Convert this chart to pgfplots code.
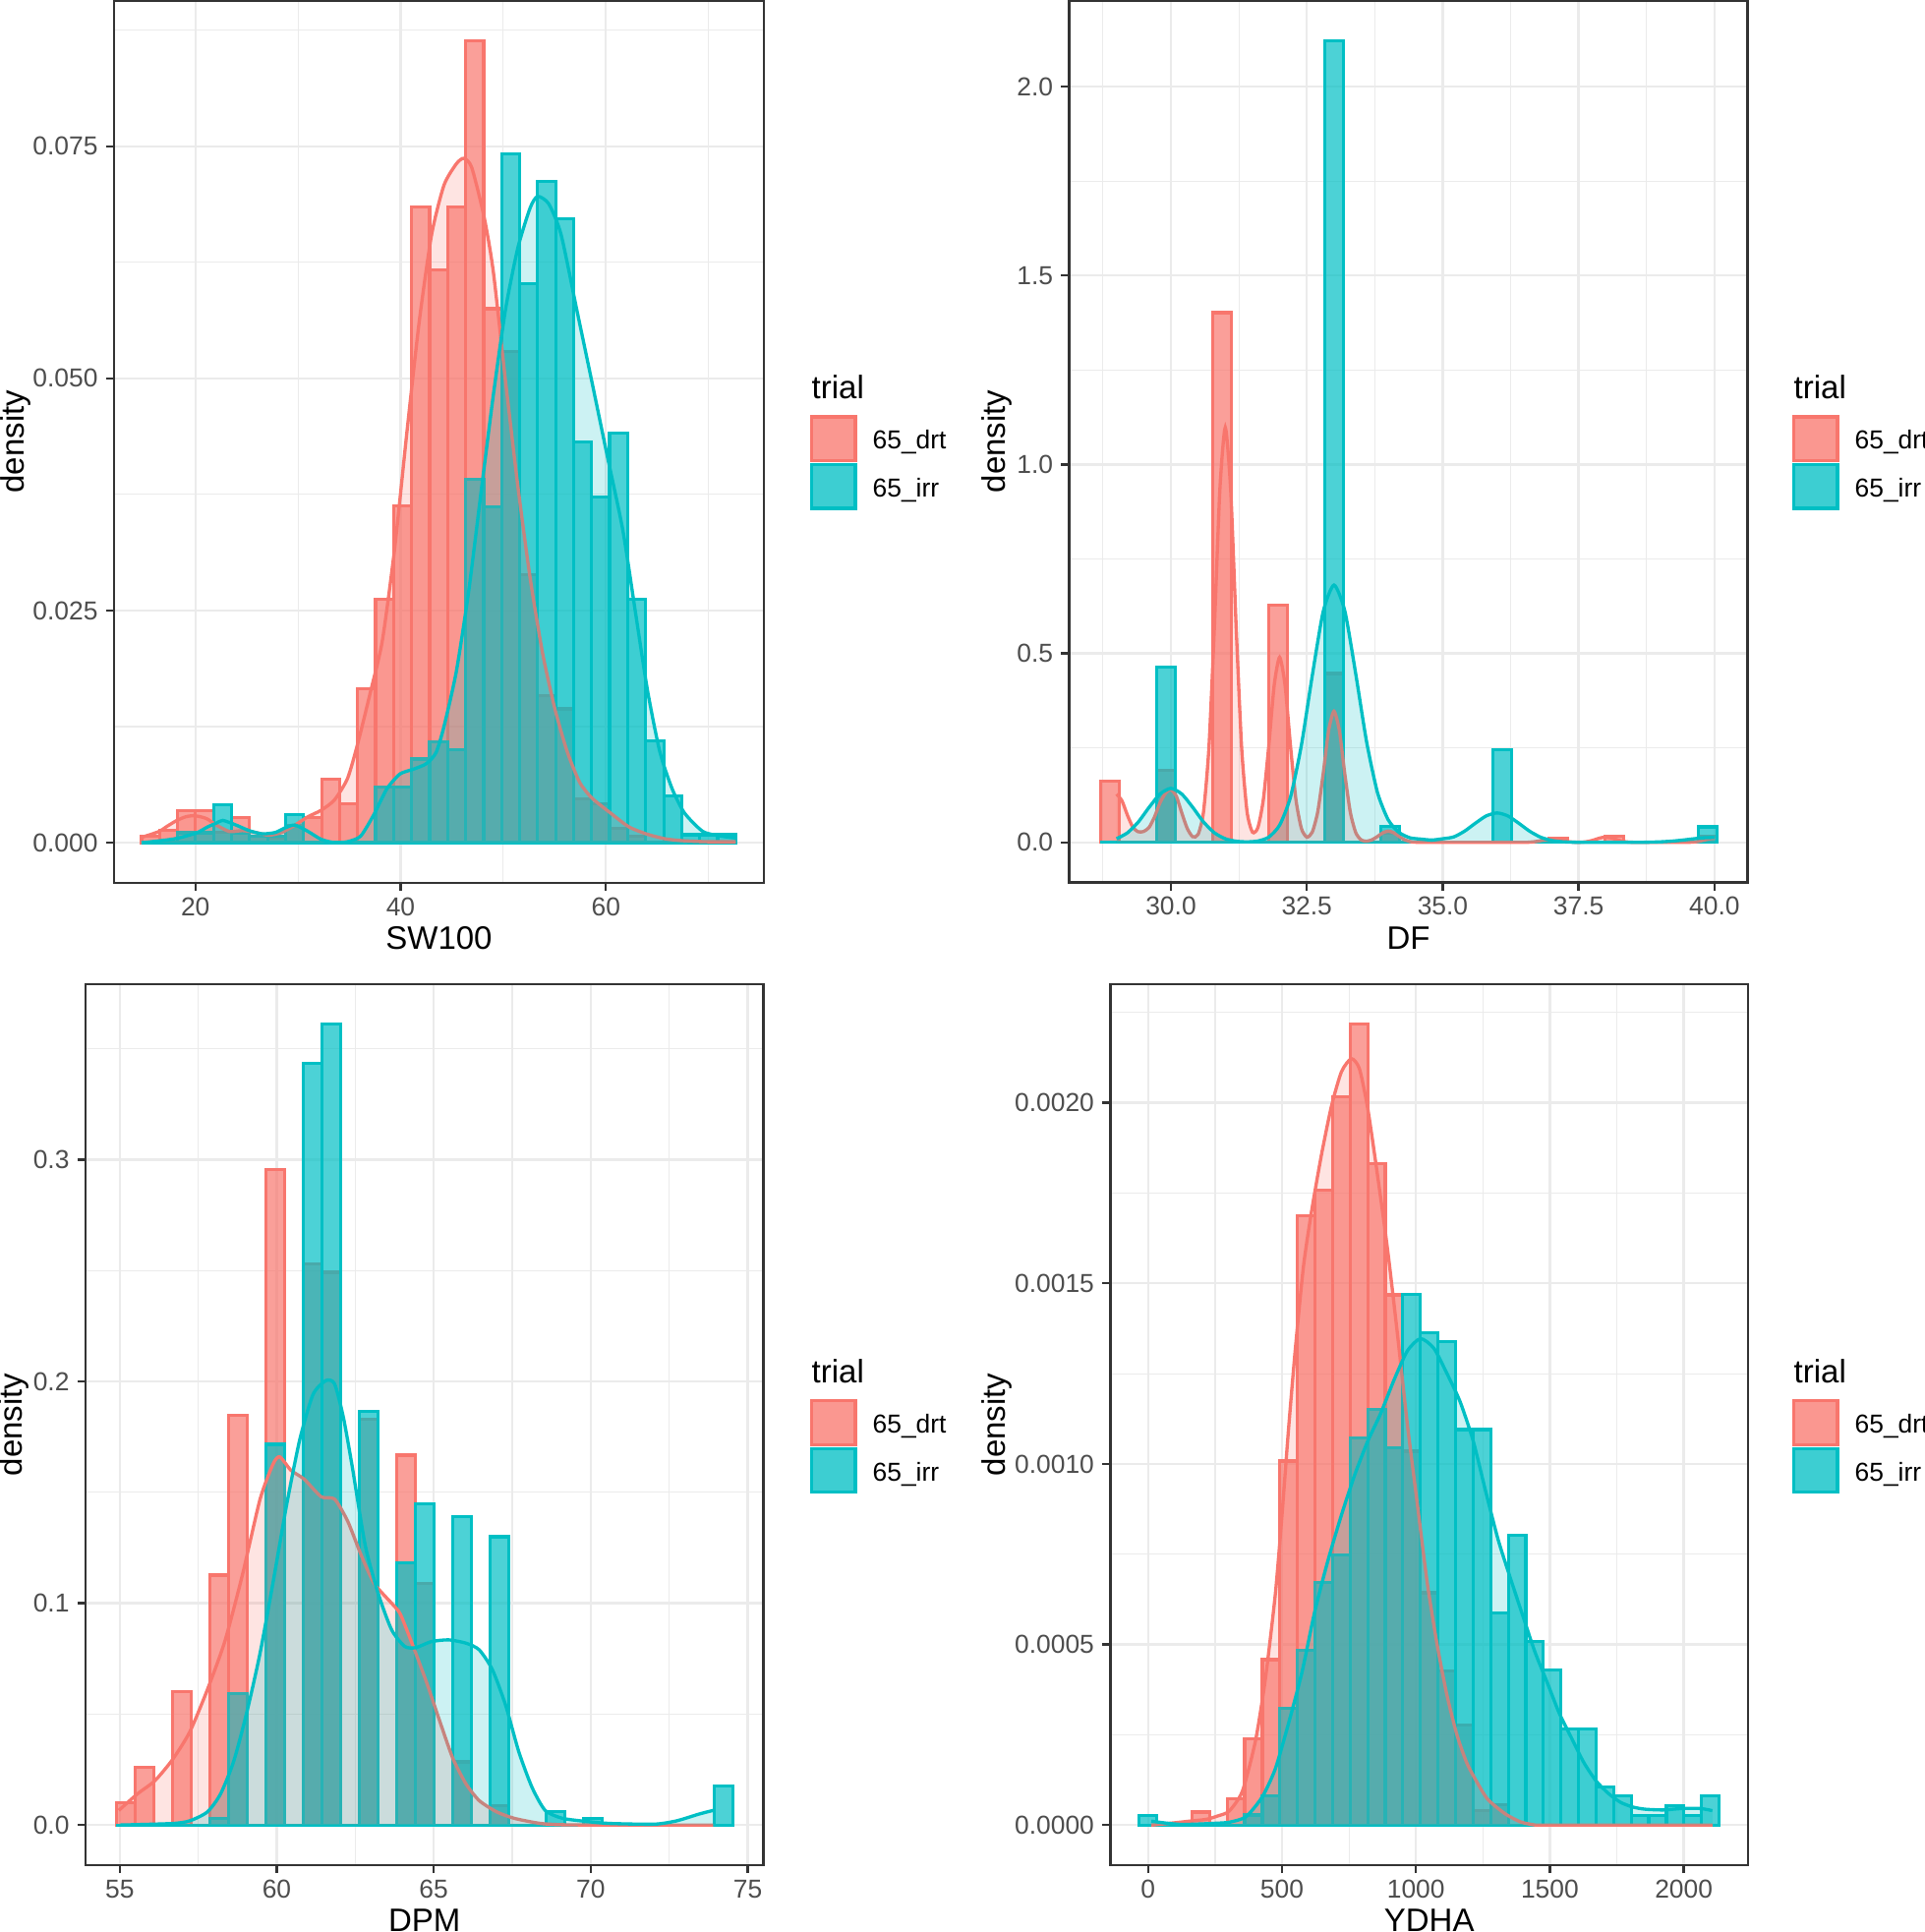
\documentclass[border=0pt]{standalone}
\usepackage{fontspec}
\setmainfont{Liberation Sans}
\usepackage{pgfplots}
\pgfplotsset{compat=1.18}
\usepackage{pgfplotstable}
\definecolor{cdrt}{HTML}{F8766D}
\definecolor{cirr}{HTML}{00BFC4}
\definecolor{gridc}{HTML}{EBEBEB}
\definecolor{g20}{HTML}{333333}
\definecolor{g30}{HTML}{4D4D4D}
\definecolor{keydrt}{RGB}{250,151,144}
\definecolor{keyirr}{RGB}{61,206,210}

% ---------------- SW100 ----------------
\pgfplotstableread{
x y
14.76 0.0007
16.51 0.0013
18.27 0.00345
20.02 0.00345
21.78 0.0011
23.53 0.00275
25.28 0.0007
27.04 0.0005
28.79 0.0018
30.55 0.00275
32.30 0.0068
34.05 0.0042
35.81 0.0166
37.56 0.0262
39.32 0.0363
41.07 0.0685
42.82 0.0617
44.58 0.0685
46.33 0.0864
48.09 0.0575
49.84 0.0529
51.59 0.0289
53.35 0.0158
55.10 0.0144
56.86 0.0047
58.61 0.0042
60.36 0.0015
62.12 0.0007
63.87 0
65.63 0
67.38 0
69.13 0
70.89 0
72.64 0
}\swHd
\pgfplotstableread{
x y
14.76 0
16.51 0
18.27 0.00106
20.02 0.00106
21.78 0.00405
23.53 0.001
25.28 0.0007
27.04 0.0007
28.79 0.003
30.55 0
32.30 0
34.05 0
35.81 0
37.56 0.0060
39.32 0.0060
41.07 0.0090
42.82 0.0109
44.58 0.0100
46.33 0.0391
48.09 0.0362
49.84 0.0742
51.59 0.0602
53.35 0.0712
55.10 0.0672
56.86 0.0432
58.61 0.0372
60.36 0.0441
62.12 0.0262
63.87 0.0110
65.63 0.0050
67.38 0.00086
69.13 0.00086
70.89 0.00086
72.64 0.00086
}\swHi
\pgfplotstableread{
x y
14.85 0.0006
16.45 0.0012
17.3 0.0018
18.21 0.0024
19.1 0.0028
19.96 0.0029
21.08 0.0026
22.04 0.0019
23.32 0.0012
24.60 0.0013
25.88 0.0011
27.15 0.0008
28.43 0.0011
29.71 0.0019
30.99 0.0028
32.27 0.0035
33.55 0.0046
34.82 0.0069
35.78 0.0105
37.01 0.0160
38.21 0.0217
39.42 0.0317
40.62 0.0443
41.82 0.0562
43.02 0.0655
44.22 0.0708
45.42 0.0731
46.15 0.0737
46.93 0.0727
48.13 0.0674
49.03 0.0615
50.23 0.0496
51.43 0.0383
52.63 0.0284
53.83 0.0204
55.03 0.0144
56.23 0.0098
57.44 0.0065
58.64 0.0048
60.44 0.0032
62.24 0.0017
64.05 0.0009
65.85 0.0004
67.65 0.0002
70.0 0.0001
72.64 0.0001
}\swDd
\pgfplotstableread{
x y
14.85 0.0000
16.5 0.0002
18.21 0.00046
20.13 0.00106
21.2 0.0017
22.04 0.0021
22.68 0.0024
23.96 0.0019
25.24 0.0013
26.51 0.00095
27.79 0.0011
28.75 0.0016
29.71 0.0019
30.99 0.0012
32.27 0.00035
33.55 0.0000
34.82 0.0001
36.10 0.0007
37.38 0.0030
38.66 0.0058
39.94 0.0074
41.21 0.0079
42.49 0.0085
43.45 0.0097
44.22 0.0125
45.42 0.0184
46.62 0.0270
47.82 0.0376
49.03 0.0482
50.23 0.0575
51.43 0.0641
52.63 0.0684
53.35 0.0696
54.43 0.0688
55.63 0.0655
57.14 0.0575
58.64 0.0496
60.14 0.0416
61.64 0.0337
62.85 0.0250
64.05 0.0164
65.25 0.0098
66.45 0.0058
67.65 0.0032
69.45 0.0012
71.26 0.0007
72.64 0.0005
}\swDi

% ---------------- DF ----------------
\pgfplotstableread{
x y
28.700 0.163
29.044 0
29.388 0
29.731 0.190
30.075 0
30.419 0
30.763 1.402
31.106 0
31.450 0
31.794 0.628
32.138 0
32.481 0
32.825 0.447
33.169 0
33.513 0
33.856 0.024
34.200 0
34.544 0
34.888 0
35.231 0
35.575 0
35.919 0
36.263 0
36.606 0
36.950 0.0104
37.294 0
37.638 0
37.981 0.0173
38.325 0
38.669 0
39.013 0
39.356 0
39.700 0.017
40.044 0.017
}\dfHd
\pgfplotstableread{
x y
28.700 0
29.044 0
29.388 0
29.731 0.4636
30.075 0
30.419 0
30.763 0
31.106 0
31.450 0
31.794 0
32.138 0
32.481 0
32.825 2.122
33.169 0
33.513 0
33.856 0.0416
34.200 0
34.544 0
34.888 0
35.231 0
35.575 0
35.919 0.245
36.263 0
36.606 0
36.950 0
37.294 0
37.638 0
37.981 0
38.325 0
38.669 0
39.013 0
39.356 0
39.700 0.041
40.044 0.041
}\dfHi
\pgfplotstableread{
x y
29.0 0.128
29.1 0.110
29.2 0.072
29.3 0.040
29.4 0.028
29.5 0.029
29.6 0.040
29.7 0.068
29.8 0.105
29.9 0.130
30.0 0.140
30.1 0.122
30.2 0.078
30.3 0.037
30.4 0.015
30.5 0.021
30.6 0.081
30.7 0.253
30.8 0.571
30.9 0.932
31.0 1.098
31.1 0.932
31.2 0.571
31.3 0.253
31.4 0.082
31.5 0.027
31.6 0.039
31.7 0.113
31.8 0.255
31.9 0.416
32.0 0.490
32.1 0.416
32.2 0.255
32.3 0.113
32.4 0.037
32.5 0.014
32.6 0.027
32.7 0.080
32.8 0.180
32.9 0.295
33.0 0.347
33.1 0.295
33.2 0.180
33.3 0.080
33.4 0.026
33.5 0.0064
33.6 0.0032
33.7 0.0069
33.8 0.0156
33.9 0.0255
34.0 0.030
34.1 0.0255
34.2 0.0156
34.3 0.0069
34.4 0.0022
34.5 0.0005
34.7 0.0
36.4 0.0
36.6 0.0006
36.7 0.002
36.8 0.0045
36.9 0.0073
37.0 0.0086
37.1 0.0073
37.2 0.0045
37.3 0.002
37.4 0.0006
37.5 0.0003
37.6 0.001
37.7 0.0032
37.8 0.0073
37.9 0.0119
38.0 0.014
38.1 0.0119
38.2 0.0073
38.3 0.0032
38.4 0.001
38.6 0.0
39.4 0.0
39.5 0.0002
39.6 0.0008
39.7 0.0025
39.8 0.0057
39.9 0.0093
40.0 0.011
}\dfDd
\pgfplotstableread{
x y
29.0 0.0096
29.2 0.0253
29.4 0.054
29.6 0.093
29.8 0.128
30.0 0.143
30.2 0.128
30.4 0.093
30.6 0.054
30.8 0.0253
31.0 0.0096
31.2 0.003
31.4 0.0014
31.6 0.0036
31.8 0.0139
32.0 0.0456
32.2 0.120
32.4 0.257
32.6 0.441
32.8 0.610
33.0 0.681
33.2 0.612
33.4 0.446
33.6 0.266
33.8 0.132
34.0 0.059
34.2 0.026
34.4 0.012
34.6 0.0087
34.8 0.0062
35.0 0.0096
35.2 0.0143
35.4 0.0295
35.6 0.0506
35.8 0.070
36.0 0.078
36.2 0.070
36.4 0.0506
36.6 0.0295
36.8 0.0138
37.0 0.0052
37.2 0.0016
37.4 0.0004
37.6 0.0001
38.0 0.0
38.4 0.0
38.6 0.0001
38.8 0.0005
39.0 0.0014
39.2 0.0031
39.4 0.0058
39.6 0.0092
39.8 0.0121
40.0 0.0131
}\dfDi

% ---------------- DPM ----------------
\pgfplotstableread{
x y
54.888 0.0100
55.483 0.0261
56.078 0
56.673 0.0601
57.268 0
57.863 0.1127
58.458 0.1846
59.053 0
59.648 0.2955
60.243 0
60.838 0.2532
61.433 0.2493
62.028 0
62.623 0.1830
63.218 0
63.813 0.1668
64.408 0.1089
65.003 0
65.598 0.0285
66.193 0
66.788 0.0086
67.383 0
67.978 0
68.573 0
69.168 0
69.763 0
70.358 0
70.953 0
71.548 0
72.143 0
72.738 0
73.333 0
73.928 0
74.523 0
}\dpHd
\pgfplotstableread{
x y
54.888 0
55.483 0
56.078 0
56.673 0
57.268 0
57.863 0.003
58.458 0.0594
59.053 0
59.648 0.1717
60.243 0
60.838 0.3435
61.433 0.3612
62.028 0
62.623 0.1867
63.218 0
63.813 0.1183
64.408 0.1449
65.003 0
65.598 0.1390
66.193 0
66.788 0.1300
67.383 0
67.978 0
68.573 0.0059
69.168 0
69.763 0.0030
70.358 0
70.953 0
71.548 0
72.143 0
72.738 0
73.333 0
73.928 0.0177
74.523 0.0177
}\dpHi
\pgfplotstableread{
x y
54.97 0.0066
55.56 0.014
56.12 0.020
56.68 0.0295
57.23 0.042
57.79 0.061
58.35 0.083
58.91 0.113
59.47 0.147
59.89 0.163
60.10 0.166
60.45 0.160
60.87 0.156
61.42 0.148
61.84 0.147
62.26 0.137
62.68 0.122
63.10 0.109
63.66 0.100
63.94 0.095
64.36 0.080
64.78 0.064
65.20 0.0465
65.61 0.030
66.03 0.0185
66.45 0.011
67.01 0.0059
67.57 0.003
68.41 0.0007
69.25 0.0001
71.0 0.0
73.9 0.0
}\dpDd
\pgfplotstableread{
x y
55.0 0.0
56.68 0.0007
57.23 0.0019
57.79 0.0059
58.21 0.014
58.63 0.0288
59.05 0.051
59.47 0.0776
59.89 0.110
60.31 0.144
60.73 0.1736
61.15 0.194
61.56 0.2004
61.84 0.199
62.12 0.184
62.40 0.162
62.82 0.126
63.24 0.104
63.66 0.088
64.08 0.0805
64.43 0.080
64.92 0.0827
65.47 0.0835
66.03 0.082
66.45 0.079
66.87 0.070
67.29 0.054
67.71 0.033
68.13 0.017
68.55 0.0066
69.11 0.003
69.94 0.0015
70.64 0.0007
72.04 0.0004
72.74 0.0019
73.44 0.0049
73.9 0.0066
}\dpDi

% ---------------- YDHA ----------------
\pgfplotstableread{
x y
-33 0
32.6 0
98.2 0
163.8 0.000036
229.4 0
295 0.000074
360.6 0.000239
426.2 0.000458
491.8 0.001008
557.4 0.001688
623 0.001759
688.6 0.002016
754.2 0.002217
819.8 0.001831
885.4 0.001468
951 0.001035
1016.6 0.000643
1082.2 0.000426
1147.8 0.000278
1213.4 0.000040
1279 0.000056
1344.6 0
1410.2 0
1475.8 0
1541.4 0
1607 0
1672.6 0
1738.2 0
1803.8 0
1869.4 0
1935 0
2000.6 0
2066.2 0
2131.8 0
}\ydHd
\pgfplotstableread{
x y
-33 0.000026
32.6 0
98.2 0
163.8 0
229.4 0
295 0
360.6 0.000028
426.2 0.000081
491.8 0.000323
557.4 0.000484
623 0.000671
688.6 0.000749
754.2 0.001071
819.8 0.001150
885.4 0.001044
951 0.001470
1016.6 0.001363
1082.2 0.001339
1147.8 0.001095
1213.4 0.001095
1279 0.000588
1344.6 0.000803
1410.2 0.000509
1475.8 0.000429
1541.4 0.000266
1607 0.000266
1672.6 0.000106
1738.2 0.000080
1803.8 0.000027
1869.4 0.000027
1935 0.000053
2000.6 0.000027
2066.2 0.000080
2131.8 0.000080
}\ydHi
\pgfplotstableread{
x y
12 0.0
93 0.000006
155 0.000011
217 0.000016
263 0.000026
303 0.000039
352 0.000094
401 0.000234
438 0.000406
475 0.000640
500 0.000860
524 0.001094
549 0.001313
580 0.001547
611 0.001703
648 0.001859
685 0.001992
722 0.002086
759 0.002122
789 0.002094
820 0.001984
857 0.001797
894 0.001594
931 0.001359
968 0.001109
1005 0.000890
1042 0.000672
1079 0.000500
1116 0.000359
1153 0.000250
1190 0.000172
1227 0.000120
1264 0.000075
1300 0.000050
1340 0.000028
1390 0.000009
1440 0.000001
1500 0.0
2107 0.0
}\ydDd
\pgfplotstableread{
x y
12 0.000011
62 0.000006
124 0.000002
186 0.000003
247 0.000005
303 0.000008
365 0.000023
426 0.000078
475 0.000156
524 0.000281
574 0.000422
623 0.000594
672 0.000734
722 0.000859
771 0.000969
820 0.001063
869 0.001141
919 0.001234
968 0.001313
1017 0.001347
1067 0.001320
1116 0.001250
1165 0.001172
1214 0.001063
1261 0.000922
1307 0.000790
1352 0.000685
1398 0.000582
1444 0.000480
1490 0.000395
1535 0.000310
1581 0.000241
1627 0.000173
1673 0.000122
1718 0.000088
1764 0.000063
1810 0.000050
1856 0.000044
1924 0.000042
1993 0.000046
2062 0.000046
2107 0.000040
}\ydDi

\pgfplotsset{
  gg/.style={
    scale only axis,
    anchor=north west,
    grid=both,
    major grid style={draw=gridc, line width=0.7pt},
    minor grid style={draw=gridc, line width=0.35pt},
    minor tick length=0pt,
    major tick length=2.45pt,
    tick align=outside,
    tick pos=left,
    axis line style={draw=g20, line width=0.7pt},
    tick style={draw=g20, line width=0.7pt},
    ticklabel style={font=\fontsize{7.92pt}{9pt}\selectfont, text=g30, inner sep=0pt},
    xticklabel style={yshift=-1.8pt},
    yticklabel style={xshift=-2.3pt},
    label style={font=\fontsize{9.9pt}{11pt}\selectfont, text=black, inner sep=0pt},
    xlabel style={at={(axis description cs:0.5,0)}, anchor=base, yshift=-20.3pt},
    ylabel={density},
    scaled ticks=false,
  },
  hd/.style={ybar interval, fill=cdrt, fill opacity=0.7, draw=cdrt, line width=0.95pt},
  hi/.style={ybar interval, fill=cirr, fill opacity=0.7, draw=cirr, line width=0.95pt},
  fd/.style={draw=none, fill=cdrt, fill opacity=0.2, smooth, tension=0.4},
  fi/.style={draw=none, fill=cirr, fill opacity=0.2, smooth, tension=0.4},
  ld/.style={draw=cdrt, line width=1.0pt, smooth, tension=0.4},
  li/.style={draw=cirr, line width=1.0pt, smooth, tension=0.4},
}

\newcommand{\gglegend}[2]{%
  \node[anchor=base west, inner sep=0pt, font=\fontsize{9.9pt}{11pt}\selectfont] at (#1-0.15pt,#2+5.55pt) {trial};
  \filldraw[fill=keydrt, draw=cdrt, line width=0.95pt] (#1,#2) rectangle (#1+13.35pt,#2-13.35pt);
  \filldraw[fill=keyirr, draw=cirr, line width=0.95pt] (#1,#2-14.55pt) rectangle (#1+13.35pt,#2-27.9pt);
  \node[anchor=base west, inner sep=0pt, font=\fontsize{7.92pt}{9pt}\selectfont] at (#1+18.45pt,#2-9.75pt) {65\_drt};
  \node[anchor=base west, inner sep=0pt, font=\fontsize{7.92pt}{9pt}\selectfont] at (#1+18.45pt,#2-24.45pt) {65\_irr};
}

\begin{document}
\begin{tikzpicture}
\useasboundingbox (0pt,0pt) rectangle (587.1pt,-589.5pt);

% Panel 1: SW100
\begin{axis}[gg, at={(34.8pt,-0.15pt)}, width=198.3pt, height=269.2pt,
  xmin=12.08, xmax=75.39, ymin=-0.00432, ymax=0.0907,
  xtick={20,40,60}, xticklabels={20,40,60}, minor xtick={30,50,70},
  ytick={0,0.025,0.05,0.075}, yticklabels={0.000,0.025,0.050,0.075},
  minor ytick={0.0125,0.0375,0.0625,0.0875},
  xlabel={SW100},
  ylabel style={at={(axis description cs:-0.1517,0.5)}, anchor=center}]
\addplot[hd] table {\swHd};
\addplot[hi] table {\swHi};
\addplot[fd] table {\swDd} \closedcycle;
\addplot[ld] table {\swDd};
\addplot[fi] table {\swDi} \closedcycle;
\addplot[li] table {\swDi};
\end{axis}

% Panel 2: DF
\begin{axis}[gg, at={(326.28pt,-0.15pt)}, width=207pt, height=269.1pt,
  xmin=28.13, xmax=40.61, ymin=-0.106, ymax=2.228,
  xtick={30,32.5,35,37.5,40}, xticklabels={30.0,32.5,35.0,37.5,40.0},
  minor xtick={28.75,31.25,33.75,36.25,38.75},
  ytick={0,0.5,1,1.5,2}, yticklabels={0.0,0.5,1.0,1.5,2.0},
  minor ytick={0.25,0.75,1.25,1.75},
  xlabel={DF},
  ylabel style={at={(axis description cs:-0.1062,0.5)}, anchor=center}]
\addplot[hd] table {\dfHd};
\addplot[hi] table {\dfHi};
\addplot[fd] table {\dfDd} \closedcycle;
\addplot[ld] table {\dfDd};
\addplot[fi] table {\dfDi} \closedcycle;
\addplot[li] table {\dfDi};
\end{axis}

% Panel 3: DPM
\begin{axis}[gg, at={(26.1pt,-300.21pt)}, width=206.85pt, height=268.89pt,
  xmin=53.91, xmax=75.50, ymin=-0.0181, ymax=0.3793,
  xtick={55,60,65,70,75}, xticklabels={55,60,65,70,75},
  minor xtick={57.5,62.5,67.5,72.5},
  ytick={0,0.1,0.2,0.3}, yticklabels={0.0,0.1,0.2,0.3},
  minor ytick={0.05,0.15,0.25,0.35},
  xlabel={DPM},
  ylabel style={at={(axis description cs:-0.1062,0.5)}, anchor=center}]
\addplot[hd] table {\dpHd};
\addplot[hi] table {\dpHi};
\addplot[fd] table {\dpDd} \closedcycle;
\addplot[ld] table {\dpDd};
\addplot[fi] table {\dpDi} \closedcycle;
\addplot[li] table {\dpDi};
\end{axis}

% Panel 4: YDHA
\begin{axis}[gg, at={(338.82pt,-300.21pt)}, width=194.58pt, height=268.89pt,
  xmin=-141, xmax=2240, ymin=-0.0001109, ymax=0.002329,
  xtick={0,500,1000,1500,2000}, xticklabels={0,500,1000,1500,2000},
  minor xtick={250,750,1250,1750},
  ytick={0,0.0005,0.001,0.0015,0.002}, yticklabels={0.0000,0.0005,0.0010,0.0015,0.0020},
  minor ytick={0.00025,0.00075,0.00125,0.00175,0.00225},
  xlabel={YDHA},
  ylabel style={at={(axis description cs:-0.1773,0.5)}, anchor=center}]
\addplot[hd] table {\ydHd};
\addplot[hi] table {\ydHi};
\addplot[fd] table {\ydDd} \closedcycle;
\addplot[ld] table {\ydDd};
\addplot[fi] table {\ydDi} \closedcycle;
\addplot[li] table {\ydDi};
\end{axis}

\gglegend{247.65pt}{-127.2pt}
\gglegend{547.35pt}{-127.2pt}
\gglegend{247.65pt}{-427.38pt}
\gglegend{547.35pt}{-427.38pt}
\end{tikzpicture}
\end{document}
